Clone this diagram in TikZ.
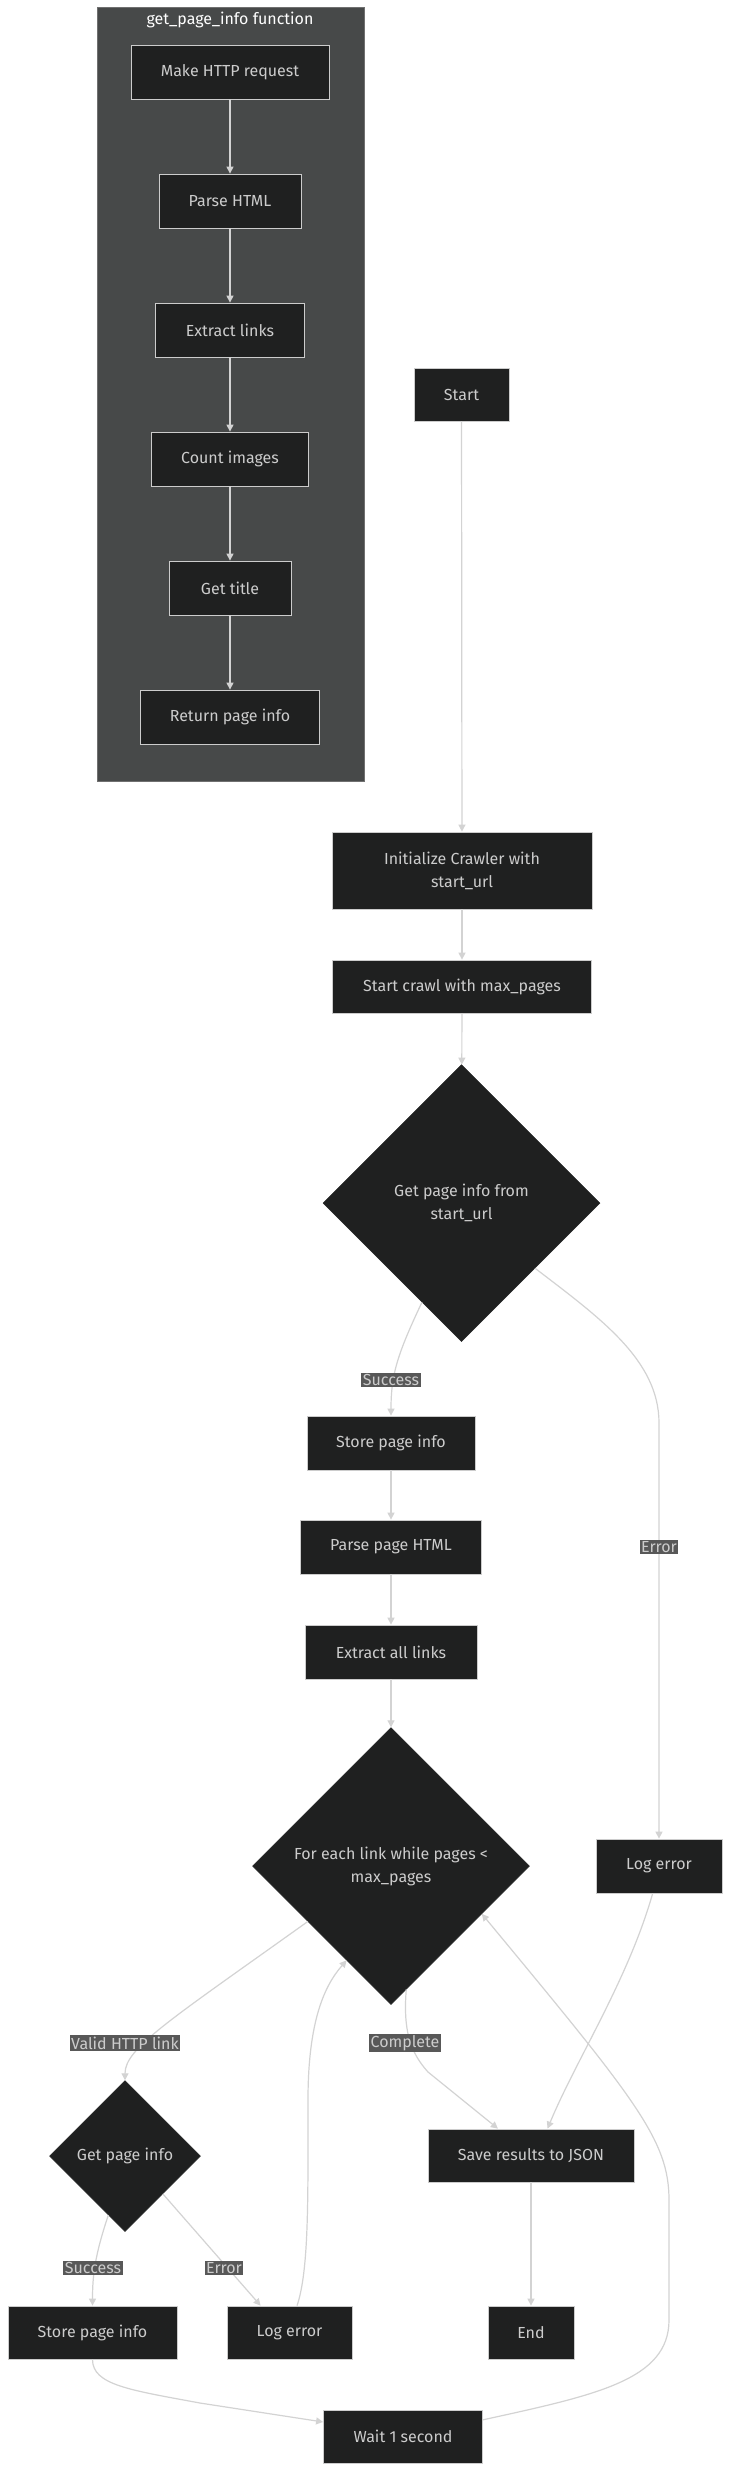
\documentclass[tikz,border=0pt]{standalone}
\usepackage{fontspec}
\setmainfont{Fira Sans}
\usetikzlibrary{shapes.geometric,arrows.meta,calc}
\definecolor{nodefill}{HTML}{1F2020}
\definecolor{nodeline}{HTML}{CCCCCC}
\definecolor{txt}{HTML}{CCCCCC}
\definecolor{clusterfill}{HTML}{474949}
\definecolor{clusterline}{HTML}{707070}
\definecolor{lblfill}{HTML}{585858}
\definecolor{edgecol}{HTML}{D3D3D3}
\begin{document}
\begin{tikzpicture}[x=1pt,y=-1pt,
  box/.style={rectangle, fill=nodefill, draw=nodeline, line width=0.8pt, text=txt, inner sep=0pt, minimum height=54pt, align=center, font=\fontsize{16}{23}\selectfont},
  dec/.style={diamond, aspect=1, fill=nodefill, draw=nodefill, line width=0.5pt, text=txt, inner sep=0pt, align=center, font=\fontsize{16}{23}\selectfont},
  lbl/.style={fill=lblfill, text=txt, inner sep=1.5pt, font=\fontsize{16}{19}\selectfont},
  edge/.style={draw=edgecol, line width=1.2pt, -{Triangle[length=7pt,width=7pt]}},
  ctitle/.style={text=white, font=\fontsize{16}{19}\selectfont, inner sep=0pt}
]
\fill[white] (0,0) rectangle (730,2471);
\useasboundingbox (0,0) rectangle (730,2471);

% cluster
\node[draw=clusterline, fill=clusterfill, line width=0.8pt, minimum width=267pt, minimum height=774pt, inner sep=0pt] (cluster) at (230.5,394) {};
\node[ctitle] (ctitle) at (230,20) {get\_page\_info function};

\node[box, minimum width=198pt] (mh) at (230,72) {Make HTTP request};
\node[box, minimum width=142pt] (ph) at (230,201) {Parse HTML};
\node[box, minimum width=149pt] (el) at (230,330) {Extract links};
\node[box, minimum width=157pt] (ci) at (230,459) {Count images};
\node[box, minimum width=122pt] (gt) at (230,588) {Get title};
\node[box, minimum width=179pt] (rp) at (230,717) {Return page info};

% main flow
\node[box, minimum width=95pt, minimum height=53pt] (start) at (461.5,394.5) {Start};
\node[box, minimum width=260pt, minimum height=77pt] (init) at (462,870.5) {Initialize Crawler with\\start\_url};
\node[box, minimum width=259pt, minimum height=53pt] (crawl) at (462,986.5) {Start crawl with max\_pages};
\node[dec, minimum width=277pt, minimum height=277pt] (d1) at (461.5,1203) {Get page info from\\start\_url};
\node[box, minimum width=168pt] (store1) at (391,1443) {Store page info};
\node[box, minimum width=181pt] (parse2) at (391,1547) {Parse page HTML};
\node[box, minimum width=172pt] (extract2) at (391,1652) {Extract all links};
\node[dec, minimum width=277pt, minimum height=277pt] (d2) at (391,1866) {For each link while pages <\\max\_pages};
\node[box, minimum width=126pt] (logerr1) at (659,1866) {Log error};
\node[dec, minimum width=151pt, minimum height=151pt] (d3) at (125,2156) {Get page info};
\node[box, minimum width=206pt, minimum height=53pt] (save) at (531,2155.5) {Save results to JSON};
\node[box, minimum width=86pt, minimum height=53pt] (end) at (531,2332.5) {End};
\node[box, minimum width=169pt, minimum height=53pt] (store3) at (92.5,2332.5) {Store page info};
\node[box, minimum width=125pt, minimum height=53pt] (logerr3) at (289.5,2332.5) {Log error};
\node[box, minimum width=159pt, minimum height=53pt] (wait) at (403,2436.5) {Wait 1 second};

% cluster edges
\draw[edge] (mh) -- (ph);
\draw[edge] (ph) -- (el);
\draw[edge] (el) -- (ci);
\draw[edge] (ci) -- (gt);
\draw[edge] (gt) -- (rp);

% main edges
\draw[edge] (start) -- (init);
\draw[edge] (init) -- (crawl);
\draw[edge] (crawl) -- (d1);
\draw[edge] ($(d1.south)!0.285!(d1.west)$) .. controls (397,1355) and (391,1375) .. (store1.north);
\draw[edge] ($(d1.east)!0.47!(d1.south)$) .. controls (600,1318) and (659,1360) .. (659,1423) -- (logerr1.north);
\draw[edge] (store1) -- (parse2);
\draw[edge] (parse2) -- (extract2);
\draw[edge] (extract2) -- (d2.north);
\draw[edge] ($(d2.west)!0.40!(d2.south)$) .. controls (170,2020) and (125,2048) .. (d3.north);
\draw[edge] ($(d2.south)!0.11!(d2.east)$) .. controls (403,2030) and (410,2052) .. (428,2072) -- ($(save.north west)!0.34!(save.north east)$);
\draw[edge] ($(logerr1.south west)!0.45!(logerr1.south east)$) .. controls (628,1980) and (576,2060) .. ($(save.north west)!0.58!(save.north east)$);
\draw[edge] (save) -- (end);
\draw[edge] ($(d3.south)!0.22!(d3.west)$) .. controls (95,2255) and (92.5,2275) .. (store3.north);
\draw[edge] ($(d3.south)!0.5!(d3.east)$) -- ($(logerr3.north west)!0.27!(logerr3.north east)$);
\draw[edge] ($(logerr3.north west)!0.56!(logerr3.north east)$) .. controls (309,2270) and (308,2200) .. (308,2100) .. controls (308,2020) and (325,1985) .. ($(d2.south)!0.32!(d2.west)$);
\draw[edge] (store3.south) .. controls (92.5,2385) and (130,2390) .. (200,2403) -- ($(wait.north west)!0.23!(wait.south west)$);
\draw[edge] ($(wait.north east)!0.19!(wait.south east)$) .. controls (596,2395) and (669,2380) .. (669,2320) -- (669,2200) .. controls (669,2140) and (636,2100) .. ($(d2.east)!0.345!(d2.south)$);

% edge labels
\node[lbl] (ls1) at (391,1380) {Success};
\node[lbl] (le1) at (659,1547) {Error};
\node[lbl] (lv) at (125,2043) {Valid HTTP link};
\node[lbl] (lc) at (405,2043) {Complete};
\node[lbl] (ls3) at (93,2268) {Success};
\node[lbl] (le3) at (224,2268) {Error};
\end{tikzpicture}
\end{document}
